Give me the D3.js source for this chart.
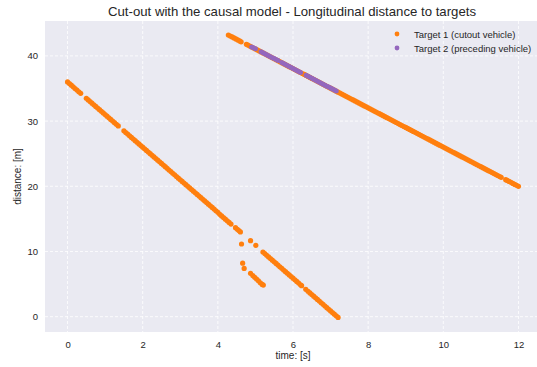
<!DOCTYPE html>
<html>
<head>
<meta charset="utf-8">
<script src="https://d3js.org/d3.v7.min.js"></script>
<style>
  body { margin: 0; background: #fff; }
  text { font-family: "Liberation Sans", Arial, sans-serif; fill: #262626; }
</style>
</head>
<body>
<div id="chart"></div>
<script>
// Target 1 (cutout vehicle): time [s]
const target1Time = [
  // before cut-out
  0.00, 0.05, 0.10, 0.15, 0.20, 0.25, 0.30, 0.35, 0.50, 0.55,
  0.60, 0.65, 0.70, 0.75, 0.80, 0.85, 0.90, 0.95, 1.00, 1.05,
  1.10, 1.15, 1.20, 1.25, 1.30, 1.35, 1.50, 1.55, 1.60, 1.65,
  1.70, 1.75, 1.80, 1.85, 1.90, 1.95, 2.00, 2.05, 2.10, 2.15,
  2.20, 2.25, 2.30, 2.35, 2.40, 2.45, 2.50, 2.55, 2.60, 2.65,
  2.70, 2.75, 2.80, 2.85, 2.90, 2.95, 3.00, 3.05, 3.10, 3.15,
  3.20, 3.25, 3.30, 3.35, 3.40, 3.45, 3.50, 3.55, 3.60, 3.65,
  3.70, 3.75, 3.80, 3.85, 3.90, 3.95, 4.00, 4.05, 4.10, 4.15,
  4.20, 4.25, 4.30, 4.35, 4.47, 4.52, 4.56, 4.60,
  // scattered during cut-out
  4.63, 4.87, 5.01, 4.66, 4.70,
  4.87, 4.93, 4.98, 5.03, 5.08, 5.13, 5.18, 5.21,
  // after cut-out, lower track
  5.20, 5.25, 5.30, 5.35, 5.40, 5.45, 5.50, 5.55, 5.60, 5.65,
  5.70, 5.75, 5.80, 5.85, 5.90, 5.95, 6.00, 6.05, 6.10, 6.15,
  6.20, 6.23, 6.34, 6.40, 6.45, 6.50, 6.55, 6.60, 6.65, 6.70,
  6.75, 6.80, 6.85, 6.90, 6.95, 7.00, 7.05, 7.10, 7.15, 7.20,
  // upper track
  4.28, 4.33, 4.38, 4.43, 4.48, 4.53, 4.58, 4.62, 4.76, 4.80,
  4.85, 4.90, 4.95, 5.00, 5.05, 5.10, 5.15, 5.20, 5.25, 5.30,
  5.35, 5.40, 5.45, 5.50, 5.55, 5.60, 5.65, 5.70, 5.75, 5.80,
  5.85, 5.90, 5.95, 6.00, 6.05, 6.10, 6.15, 6.20, 6.25, 6.30,
  6.35, 6.40, 6.45, 6.50, 6.55, 6.60, 6.65, 6.70, 6.75, 6.80,
  6.85, 6.90, 6.95, 7.00, 7.05, 7.10, 7.15, 7.20, 7.25, 7.30,
  7.35, 7.40, 7.45, 7.50, 7.55, 7.60, 7.65, 7.70, 7.75, 7.80,
  7.85, 7.90, 7.95, 8.00, 8.05, 8.10, 8.15, 8.20, 8.25, 8.30,
  8.35, 8.40, 8.45, 8.50, 8.55, 8.60, 8.65, 8.70, 8.75, 8.80,
  8.85, 8.90, 8.95, 9.00, 9.05, 9.10, 9.15, 9.20, 9.25, 9.30,
  9.35, 9.40, 9.45, 9.50, 9.55, 9.60, 9.65, 9.70, 9.75, 9.80,
  9.85, 9.90, 9.95, 10.00, 10.05, 10.10, 10.15, 10.20, 10.25, 10.30,
  10.35, 10.40, 10.45, 10.50, 10.55, 10.60, 10.65, 10.70, 10.75, 10.80,
  10.85, 10.90, 10.95, 11.00, 11.05, 11.10, 11.15, 11.20, 11.25, 11.30,
  11.35, 11.40, 11.45, 11.50, 11.54, 11.66, 11.70, 11.75, 11.80, 11.85,
  11.90, 11.95, 12.00
];
// Target 1: distance [m]
const target1Dist = [
  36.00, 35.75, 35.50, 35.25, 35.00, 34.75, 34.50, 34.25, 33.50, 33.25,
  33.00, 32.75, 32.50, 32.25, 32.00, 31.75, 31.50, 31.25, 31.00, 30.75,
  30.50, 30.25, 30.00, 29.75, 29.50, 29.25, 28.50, 28.25, 28.00, 27.75,
  27.50, 27.25, 27.00, 26.75, 26.50, 26.25, 26.00, 25.75, 25.50, 25.25,
  25.00, 24.75, 24.50, 24.25, 24.00, 23.75, 23.50, 23.25, 23.00, 22.75,
  22.50, 22.25, 22.00, 21.75, 21.50, 21.25, 21.00, 20.75, 20.50, 20.25,
  20.00, 19.75, 19.50, 19.25, 19.00, 18.75, 18.50, 18.25, 18.00, 17.75,
  17.50, 17.25, 17.00, 16.75, 16.50, 16.25, 16.00, 15.70, 15.45, 15.20,
  14.95, 14.70, 14.45, 14.20, 13.65, 13.40, 13.20, 13.00,
  11.15, 11.66, 10.95, 8.20, 7.40,
  6.65, 6.30, 6.05, 5.75, 5.50, 5.20, 4.95, 4.85,
  9.92, 9.67, 9.42, 9.17, 8.92, 8.67, 8.42, 8.17, 7.91, 7.66,
  7.41, 7.16, 6.91, 6.66, 6.41, 6.16, 5.90, 5.65, 5.40, 5.15,
  4.90, 4.75, 4.20, 3.90, 3.65, 3.40, 3.14, 2.89, 2.64, 2.39,
  2.14, 1.89, 1.64, 1.38, 1.13, 0.88, 0.63, 0.38, 0.13, -0.12,
  43.20, 43.05, 42.90, 42.75, 42.60, 42.45, 42.30, 42.15, 41.78, 41.66,
  41.51, 41.36, 41.21, 41.06, 40.91, 40.76, 40.61, 40.46, 40.31, 40.16,
  40.01, 39.86, 39.71, 39.56, 39.41, 39.26, 39.11, 38.96, 38.81, 38.65,
  38.50, 38.35, 38.20, 38.05, 37.90, 37.75, 37.60, 37.45, 37.30, 37.15,
  37.00, 36.85, 36.70, 36.55, 36.40, 36.25, 36.10, 35.95, 35.80, 35.64,
  35.49, 35.34, 35.19, 35.04, 34.89, 34.74, 34.59, 34.44, 34.29, 34.14,
  33.99, 33.84, 33.69, 33.54, 33.39, 33.24, 33.09, 32.94, 32.79, 32.63,
  32.48, 32.33, 32.18, 32.03, 31.88, 31.73, 31.58, 31.43, 31.28, 31.13,
  30.98, 30.83, 30.68, 30.53, 30.38, 30.23, 30.08, 29.93, 29.78, 29.62,
  29.47, 29.32, 29.17, 29.02, 28.87, 28.72, 28.57, 28.42, 28.27, 28.12,
  27.97, 27.82, 27.67, 27.52, 27.37, 27.22, 27.07, 26.92, 26.77, 26.61,
  26.46, 26.31, 26.16, 26.01, 25.86, 25.71, 25.56, 25.41, 25.26, 25.11,
  24.96, 24.81, 24.66, 24.51, 24.36, 24.21, 24.06, 23.91, 23.76, 23.60,
  23.45, 23.30, 23.15, 23.00, 22.85, 22.70, 22.55, 22.40, 22.25, 22.10,
  21.95, 21.80, 21.65, 21.50, 21.38, 21.02, 20.90, 20.75, 20.60, 20.44,
  20.29, 20.14, 19.99
];

// Target 2 (preceding vehicle): time [s] and distance [m]
const target2Time = [
  4.90, 4.95, 5.00, 5.15, 5.20, 5.25, 5.30, 5.35, 5.40, 5.45,
  5.50, 5.55, 5.60, 5.70, 5.75, 5.80, 5.85, 5.90, 5.95, 6.00,
  6.05, 6.10, 6.15, 6.20, 6.35, 6.40, 6.45, 6.50, 6.55, 6.60,
  6.65, 6.70, 6.75, 6.80, 6.85, 6.90, 6.95, 7.00, 7.05, 7.10,
  7.15
];
const target2Dist = [
  41.38, 41.23, 41.08, 40.63, 40.48, 40.33, 40.18, 40.03, 39.88, 39.73,
  39.58, 39.43, 39.28, 38.98, 38.83, 38.67, 38.52, 38.37, 38.22, 38.07,
  37.92, 37.77, 37.62, 37.47, 37.02, 36.87, 36.72, 36.57, 36.42, 36.27,
  36.12, 35.97, 35.82, 35.66, 35.51, 35.36, 35.21, 35.06, 34.91, 34.76,
  34.61
];

const xTicks = [0, 2, 4, 6, 8, 10, 12];
const yTicks = [0, 10, 20, 30, 40];
const seriesNames = ["Target 1 (cutout vehicle)", "Target 2 (preceding vehicle)"];
const seriesColors = ["#ff7f0e", "#9467bd"];

const W = 537, H = 367;
const margin = { top: 21, right: -4, bottom: 35, left: 45 };
const width = W - margin.left - margin.right;
const height = H - margin.top - margin.bottom;

const svg = d3.select("#chart").append("svg")
  .attr("width", W).attr("height", H);

const g = svg.append("g")
  .attr("transform", "translate(" + margin.left + "," + margin.top + ")");

const x = d3.scaleLinear().domain([-0.6, 12.6]).range([0, width]);
const y = d3.scaleLinear().domain([-2.35, 45.35]).range([height, 0]);

// background
g.append("rect").attr("width", width).attr("height", height).attr("fill", "#eaeaf2");

// grid
g.selectAll(".xgrid").data(xTicks).join("line")
  .attr("x1", d => x(d)).attr("x2", d => x(d))
  .attr("y1", 0).attr("y2", height)
  .attr("stroke", "#fff").attr("stroke-width", 0.8).attr("stroke-dasharray", "3,2");
g.selectAll(".ygrid").data(yTicks).join("line")
  .attr("y1", d => y(d)).attr("y2", d => y(d))
  .attr("x1", 0).attr("x2", width)
  .attr("stroke", "#fff").attr("stroke-width", 0.8).attr("stroke-dasharray", "3,2");

// axes
const xAxis = g.append("g")
  .attr("transform", "translate(0," + height + ")")
  .call(d3.axisBottom(x).tickValues(xTicks).tickSize(0).tickPadding(9));
const yAxis = g.append("g")
  .call(d3.axisLeft(y).tickValues(yTicks).tickSize(0).tickPadding(7));
[xAxis, yAxis].forEach(a => {
  a.select(".domain").remove();
  a.selectAll("text").attr("font-size", 9.5).attr("fill", "#444")
    .attr("font-family", "Liberation Sans, Arial, sans-serif");
});

// points
const data1 = target1Time.map((t, i) => ({ t: t, d: target1Dist[i] }));
const data2 = target2Time.map((t, i) => ({ t: t, d: target2Dist[i] }));

g.selectAll(".p1").data(data1).join("circle")
  .attr("cx", d => x(d.t)).attr("cy", d => y(d.d)).attr("r", 2.6)
  .attr("fill", seriesColors[0]);
g.selectAll(".p2").data(data2).join("circle")
  .attr("cx", d => x(d.t)).attr("cy", d => y(d.d)).attr("r", 2.5)
  .attr("fill", seriesColors[1]);

// labels
svg.append("text").attr("x", 292).attr("y", 16).attr("text-anchor", "middle")
  .attr("font-size", 13.2).text("Cut-out with the causal model - Longitudinal distance to targets");
svg.append("text").attr("x", 293).attr("y", 359).attr("text-anchor", "middle")
  .attr("font-size", 10).text("time: [s]");
svg.append("text").attr("transform", "translate(21," + (margin.top + height / 2) + ") rotate(-90)")
  .attr("text-anchor", "middle").attr("font-size", 10).text("distance: [m]");

// legend
const legend = svg.append("g").attr("transform", "translate(397,34)");
seriesNames.forEach((name, i) => {
  legend.append("circle").attr("cx", 0).attr("cy", i * 14).attr("r", 2.4).attr("fill", seriesColors[i]);
  legend.append("text").attr("x", 17).attr("y", i * 14 + 3.5).attr("font-size", 9.5).text(name);
});
</script>
</body>
</html>
